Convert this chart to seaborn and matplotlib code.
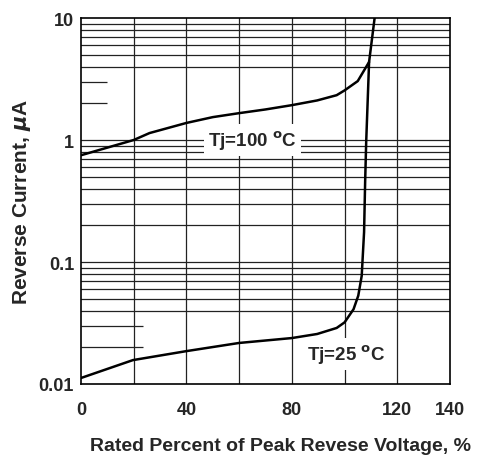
import matplotlib
matplotlib.use("Agg")
import matplotlib.pyplot as plt
import seaborn as sns
import numpy as np
import pandas as pd

# curves
pct_100 = [0, 20, 26, 40, 50, 60, 70, 80, 89.6, 97, 100, 105, 109.3, 111.4]
ir_100 = [0.75, 1.0, 1.14, 1.38, 1.54, 1.66, 1.78, 1.93, 2.11, 2.33, 2.55, 3.04, 4.36, 10.0]

pct_25 = [0, 19.7, 40, 60, 80, 89.6, 97, 100, 103.4, 105.2, 106.5, 107.4, 107.8, 108.2, 109.3]
ir_25 = [0.0112, 0.0157, 0.0186, 0.0217, 0.0238, 0.0257, 0.0288, 0.032, 0.041, 0.053,
         0.077, 0.176, 0.45, 0.96, 4.36]

x_ticks = [0, 20, 40, 60, 80, 100, 120, 140]
x_labels = ["0", "", "40", "", "80", "", "120", "140"]
y_ticks = [0.01, 0.1, 1, 10]
y_labels = ["0.01", "0.1", "1", "10"]

df = pd.concat([
    pd.DataFrame({"pct": pct_100, "ir": ir_100, "tj": "100"}),
    pd.DataFrame({"pct": pct_25, "ir": ir_25, "tj": "25"}),
])

sns.set_style("white")
plt.rcParams['font.family'] = ['Liberation Sans', 'DejaVu Sans']
plt.rcParams['font.weight'] = 'bold'
plt.rcParams['mathtext.default'] = 'it'

fig = plt.figure(figsize=(4.86, 4.56), dpi=100)
ax = fig.add_axes([81 / 486, 1 - 385 / 456, 369 / 486, 366 / 456])
ax.set_yscale("log")
ax.set_xlim(0, 140)
ax.set_ylim(0.01, 10)

# grid: verticals every 20 %, log minor horizontals; 2 and 3 only stubs in top/bottom decades
for xv in x_ticks[1:-1]:
    ax.axvline(xv, color="#222222", lw=0.9, zorder=1)
for dec in [0.01, 0.1, 1]:
    for m in range(2, 10):
        yv = dec * m
        if dec != 0.1 and m in (2, 3):
            xmax = 10 if dec == 1 else 23.5
            ax.hlines(yv, 0, xmax, color="#222222", lw=0.9, zorder=1)
        else:
            ax.axhline(yv, color="#222222", lw=0.9, zorder=1)
for yv in [0.1, 1]:
    ax.axhline(yv, color="#222222", lw=0.9, zorder=1)

sns.lineplot(data=df, x="pct", y="ir", units="tj", estimator=None, color="black",
             lw=1.8, ax=ax, legend=False, zorder=3, sort=False)

ax.text(65, 1.0, r"Tj=100 $^{\mathrm{o}}$C", ha="center", va="center", fontsize=13.5, fontweight="bold",
        bbox=dict(fc="white", ec="none", pad=3), zorder=4)
ax.text(100.6, 0.0176, r"Tj=25 $^{\mathrm{o}}$C", ha="center", va="center", fontsize=13.5, fontweight="bold",
        bbox=dict(fc="white", ec="none", pad=3), zorder=4)

ax.set_xticks(x_ticks)
ax.set_xticklabels(x_labels, fontsize=13, fontweight="bold")
ax.set_yticks(y_ticks)
ax.set_yticklabels(y_labels, fontsize=13, fontweight="bold")
ax.yaxis.set_minor_locator(matplotlib.ticker.NullLocator())
ax.tick_params(axis="x", length=0, pad=12)
ax.tick_params(axis="y", length=0, pad=5)
for s in ax.spines.values():
    s.set_color("black")
    s.set_linewidth(1.2)

ax.set_xlabel("Rated Percent of Peak Revese Voltage, %", fontsize=14, fontweight="bold")
ax.xaxis.set_label_coords(0.54, -0.145)
ax.set_ylabel(r"Reverse Current, $\mu$A", fontsize=15, fontweight="bold", labelpad=4)

fig.savefig("out.png", dpi=100)
